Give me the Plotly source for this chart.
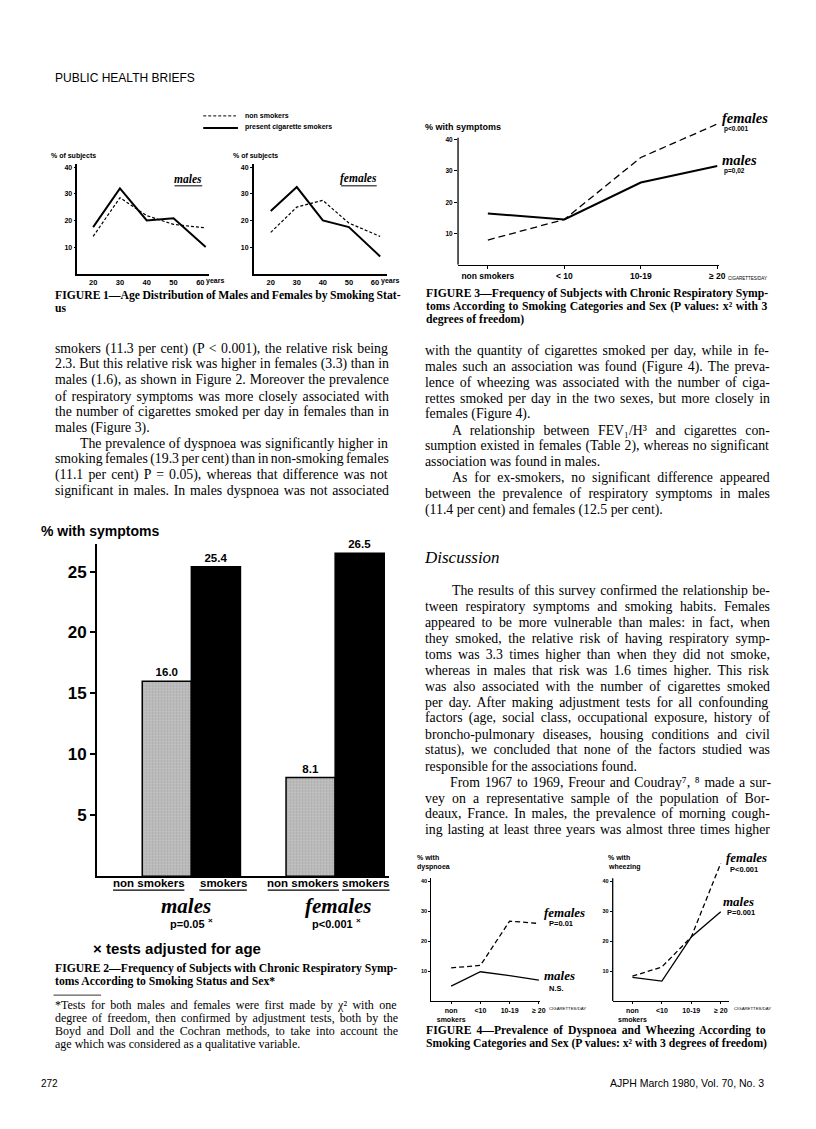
import re
import html
import plotly.graph_objects as go

W, H = 816, 1129
SANS = "Liberation Sans, Arial, sans-serif"
SERIF = "Liberation Serif, Times New Roman, serif"

# ---------------- data ----------------
# Figure 1 - age distribution (% of subjects)
age_groups = [20, 30, 40, 50, 62]
age_tickvals = [20, 30, 40, 50, 60]
f1_males_nonsmokers = [14.0, 28.5, 21.8, 18.5, 17.2]
f1_males_smokers = [17.5, 32.0, 20.0, 20.8, 10.0]
f1_females_nonsmokers = [15.5, 25.0, 27.5, 19.0, 14.0]
f1_females_smokers = [23.5, 32.5, 20.0, 17.5, 6.5]

# Figure 2 - % with symptoms by smoking status and sex
f2_sexes = ["males", "females"]
f2_nonsmokers = [16.0, 8.1]
f2_smokers = [25.4, 26.5]

# Figure 3 - % with symptoms by smoking category
f3_categories = ["non smokers", "< 10", "10-19", "≥ 20"]
f3_males = [16.4, 14.5, 26.3, 31.6]
f3_females = [7.9, 14.5, 34.3, 45.0]

# Figure 4 - dyspnoea and wheezing
f4_categories = ["non<br>smokers", "<10", "10-19", "≥ 20"]
f4_dyspnoea_males = [5.0, 9.8, 8.5, 7.0]
f4_dyspnoea_females = [11.1, 11.9, 26.7, 25.9]
f4_wheezing_males = [7.9, 6.7, 21.4, 29.8]
f4_wheezing_females = [8.3, 11.4, 21.4, 46.0]

y_ticks_40 = [10, 20, 30, 40]
y_ticks_25 = [5, 10, 15, 20, 25]

# ---------------- helpers ----------------
def X(px):
    return px / W

def Y(py):
    return 1 - py / H

def xdom(a, b):
    return [a / W, b / W]

def ydom(top, bottom):
    return [1 - bottom / H, 1 - top / H]

TIMES = {" ": 250, "!": 333, "%": 833, "(": 333, ")": 333, "*": 500, "+": 564, ",": 250,
         "-": 333, ".": 250, "/": 278, ":": 278, ";": 278, "<": 564, "=": 564, ">": 564,
         "—": 1000, "²": 300, "³": 300, "₁": 300, "⁷": 300, "⁸": 300, "χ": 500, "'": 333,
         "A": 722, "B": 667, "C": 667, "D": 722, "E": 611, "F": 556, "G": 722, "H": 722,
         "I": 333, "J": 389, "K": 722, "L": 611, "M": 889, "N": 722, "O": 722, "P": 556,
         "Q": 722, "R": 667, "S": 556, "T": 611, "U": 722, "V": 722, "W": 944, "X": 722,
         "Y": 722, "Z": 611,
         "a": 444, "b": 500, "c": 444, "d": 500, "e": 444, "f": 333, "g": 500, "h": 500,
         "i": 278, "j": 278, "k": 500, "l": 278, "m": 778, "n": 500, "o": 500, "p": 500,
         "q": 500, "r": 333, "s": 389, "t": 278, "u": 500, "v": 500, "w": 722, "x": 500,
         "y": 500, "z": 444}
TIMES_B = {" ": 250, "(": 333, ")": 333, "*": 500, ",": 250, "-": 333, ".": 250, ":": 333,
           "—": 1000, "²": 300,
           "A": 722, "B": 667, "C": 722, "D": 722, "E": 667, "F": 611, "G": 778, "H": 778,
           "I": 389, "J": 500, "K": 778, "L": 667, "M": 944, "N": 722, "O": 778, "P": 611,
           "Q": 778, "R": 722, "S": 556, "T": 667, "U": 722, "V": 722, "W": 1000, "X": 722,
           "Y": 722, "Z": 667,
           "a": 500, "b": 556, "c": 444, "d": 556, "e": 444, "f": 333, "g": 500, "h": 556,
           "i": 278, "j": 333, "k": 556, "l": 278, "m": 833, "n": 556, "o": 500, "p": 556,
           "q": 556, "r": 444, "s": 389, "t": 333, "u": 556, "v": 500, "w": 722, "x": 500,
           "y": 500, "z": 444}

annotations = []
shapes = []


def ann(text, x, y, size, family=SANS, weight="normal", style="normal",
        xanchor="left", yanchor="middle", align="left"):
    annotations.append(dict(
        text=text, x=X(x), y=Y(y), xref="paper", yref="paper",
        xanchor=xanchor, yanchor=yanchor, align=align, showarrow=False,
        borderpad=0,
        font=dict(size=size, family=family, color="black", weight=weight, style=style)))


def tline(text, x0, y, size, x1=None, bold=False, italic=False):
    """A line of serif text; if x1 is given the line is justified to end at x1."""
    t = text
    if x1 is not None:
        plain = html.unescape(re.sub(r"<[^>]+>", "", text))
        table = TIMES_B if bold else TIMES
        nat = sum(table.get(c, 500) for c in plain) * size / 1000.0
        n = plain.count(" ")
        if n:
            ws = (x1 - x0 - nat) / n
            t = '<span style="word-spacing:%.2fpx">%s</span>' % (ws, text)
    ann(t, x0, y, size, family=SERIF, weight="bold" if bold else "normal",
        style="italic" if italic else "normal")


def hline(x0, y0, x1, y1, width=1, dash="solid"):
    shapes.append(dict(type="line", xref="paper", yref="paper",
                       x0=X(x0), y0=Y(y0), x1=X(x1), y1=Y(y1),
                       line=dict(color="black", width=width, dash=dash)))


fig = go.Figure()

# ---------------- Figure 1 ----------------
DOT = "3px,2px"
for xa, ya, ns, sm in [("x", "y", f1_males_nonsmokers, f1_males_smokers),
                       ("x2", "y2", f1_females_nonsmokers, f1_females_smokers)]:
    fig.add_trace(go.Scatter(x=age_groups, y=ns, mode="lines", xaxis=xa, yaxis=ya,
                             line=dict(color="black", width=1.2, dash=DOT),
                             name="non smokers", showlegend=False))
    fig.add_trace(go.Scatter(x=age_groups, y=sm, mode="lines", xaxis=xa, yaxis=ya,
                             line=dict(color="black", width=2.0),
                             name="present cigarette smokers", showlegend=False))

# ---------------- Figure 3 ----------------
fig.add_trace(go.Scatter(x=f3_categories, y=f3_males, mode="lines", xaxis="x3", yaxis="y3",
                         line=dict(color="black", width=2), showlegend=False))
fig.add_trace(go.Scatter(x=f3_categories, y=f3_females, mode="lines", xaxis="x3", yaxis="y3",
                         line=dict(color="black", width=1.3, dash="7px,4px"), showlegend=False))

# ---------------- Figure 2 ----------------
fig.add_trace(go.Bar(
    x=f2_sexes, y=f2_nonsmokers, xaxis="x4", yaxis="y4",
    marker=dict(color="#b8b8b8", line=dict(color="black", width=1.5),
                pattern=dict(shape=".", fgcolor="#8c8c8c", bgcolor="#c2c2c2", size=3, solidity=0.35)),
    text=["%.1f" % v for v in f2_nonsmokers], textposition="outside", cliponaxis=False,
    textfont=dict(size=11.5, family=SANS, weight="bold", color="black"), showlegend=False))
fig.add_trace(go.Bar(
    x=f2_sexes, y=f2_smokers, xaxis="x4", yaxis="y4",
    marker=dict(color="black", line=dict(color="black", width=1.5)),
    text=["%.1f" % v for v in f2_smokers], textposition="outside", cliponaxis=False,
    textfont=dict(size=11.5, family=SANS, weight="bold", color="black"), showlegend=False))

# ---------------- Figure 4 ----------------
fig.add_trace(go.Scatter(x=f4_categories, y=f4_dyspnoea_males, mode="lines", xaxis="x5", yaxis="y5",
                         line=dict(color="black", width=1.3), showlegend=False))
fig.add_trace(go.Scatter(x=f4_categories, y=f4_dyspnoea_females, mode="lines", xaxis="x5", yaxis="y5",
                         line=dict(color="black", width=1.3, dash="5px,3px"), showlegend=False))
fig.add_trace(go.Scatter(x=f4_categories, y=f4_wheezing_males, mode="lines", xaxis="x6", yaxis="y6",
                         line=dict(color="black", width=1.3), showlegend=False))
fig.add_trace(go.Scatter(x=f4_categories, y=f4_wheezing_females, mode="lines", xaxis="x6", yaxis="y6",
                         line=dict(color="black", width=1.3, dash="5px,3px"), showlegend=False))

# ---------------- axes ----------------
def ax(**kw):
    base = dict(showgrid=False, zeroline=False, showline=True, linecolor="black",
                tickcolor="black", fixedrange=True)
    base.update(kw)
    return base

bold = lambda s: dict(size=s, family=SANS, weight="bold", color="black")

layout_axes = dict(
    # fig 1 males
    xaxis=ax(domain=xdom(78, 211), range=[14.1, 63.3], anchor="y", tickvals=age_tickvals,
             ticks="", linewidth=1.5, tickfont=bold(7.5)),
    yaxis=ax(domain=ydom(273 - 41 * 2.67, 273), range=[0, 41], anchor="x", tickvals=y_ticks_40,
             ticks="outside", ticklen=2, linewidth=1.5, tickfont=bold(7)),
    # fig 1 females
    xaxis2=ax(domain=xdom(256, 390), range=[13.5, 64.5], anchor="y2", tickvals=age_tickvals,
              ticks="", linewidth=1.5, tickfont=bold(7.5)),
    yaxis2=ax(domain=ydom(273 - 41 * 2.67, 273), range=[0, 41], anchor="x2", tickvals=y_ticks_40,
              ticks="outside", ticklen=2, linewidth=1.5, tickfont=bold(7)),
    # fig 3
    xaxis3=ax(domain=xdom(462, 725), range=[-0.39, 3.02], anchor="y3", type="category",
              ticks="outside", ticklen=3, linewidth=1.3, tickfont=bold(8.5)),
    yaxis3=ax(domain=ydom(264 - 46 * 3.13, 264), range=[0, 46], anchor="x3", tickvals=y_ticks_40,
              showline=False, ticks="outside", ticklen=3, tickfont=bold(6.5)),
    # fig 2
    xaxis4=ax(domain=xdom(98, 392), range=[-0.655, 1.372], anchor="y4", type="category",
              showticklabels=False, ticks="", linewidth=2),
    yaxis4=ax(domain=ydom(543, 876), range=[0, 27.3], anchor="x4", tickvals=y_ticks_25,
              ticks="outside", ticklen=5, tickwidth=2, linewidth=2, tickfont=bold(17)),
    # fig 4 dyspnoea
    xaxis5=ax(domain=xdom(435, 545), range=[-0.68, 3.05], anchor="y5", type="category",
              ticks="outside", ticklen=2, linewidth=1.3, tickfont=bold(7)),
    yaxis5=ax(domain=ydom(1001 - 41 * 3, 1001), range=[0, 41], anchor="x5", tickvals=y_ticks_40,
              ticks="outside", ticklen=2, linewidth=1.3, tickfont=bold(5.5)),
    # fig 4 wheezing
    xaxis6=ax(domain=xdom(618, 735), range=[-0.67, 3.27], anchor="y6", type="category",
              ticks="outside", ticklen=2, linewidth=1.3, tickfont=bold(7)),
    yaxis6=ax(domain=ydom(1001 - 47 * 3, 1001), range=[0, 47], anchor="x6", tickvals=y_ticks_40,
              showline=False, ticks="outside", ticklen=2, tickfont=bold(5.5)),
)

# y axis lines that stop at the top tick while data run above them
shapes.append(dict(type="line", xref="x3 domain", yref="y3", x0=0, x1=0, y0=0, y1=40.6,
                   line=dict(color="black", width=1.3)))
shapes.append(dict(type="line", xref="x6 domain", yref="y6", x0=0, x1=0, y0=0, y1=41,
                   line=dict(color="black", width=1.3)))

# ---------------- page text ----------------
ann("PUBLIC HEALTH BRIEFS", 54, 77, 12, family=SANS)

# Figure 1 texts
hline(205, 115, 238, 115, width=1, dash=DOT)
hline(205, 127, 240, 127, width=2)
ann("non smokers", 246, 115, 7, weight="bold")
ann("present cigarette smokers", 246, 126, 7, weight="bold")
ann("% of subjects", 50, 155, 7, weight="bold")
ann("% of subjects", 234, 155, 7, weight="bold")
ann("males", 190, 178, 11.5, family=SERIF, weight="bold", style="italic", xanchor="center")
ann("females", 362, 178, 11.5, family=SERIF, weight="bold", style="italic", xanchor="center")
hline(176, 185, 204, 185, width=1)
hline(344, 185, 380, 185, width=1)
ann("years", 207, 280, 7, weight="bold")
ann("years", 383, 280, 7, weight="bold")
tline("FIGURE 1—Age Distribution of Males and Females by Smoking Stat-", 54, 295, 11.7, x1=400, bold=True)
tline("us", 54, 308, 11.7, bold=True)

# Figure 3 texts
ann("% with symptoms", 428, 126, 9, weight="bold")
ann("females", 727, 117, 14.5, family=SERIF, weight="bold", style="italic")
ann("p&lt;0.001", 729, 128, 6.5, weight="bold")
ann("males", 727, 159, 14.5, family=SERIF, weight="bold", style="italic")
ann("p=0,02", 729, 170, 6.5, weight="bold")
ann("CIGARETTES/DAY", 733, 278, 4.5)
tline("FIGURE 3—Frequency of Subjects with Chronic Respiratory Symp-", 429, 293, 11.7, x1=772, bold=True)
tline("toms According to Smoking Categories and Sex (P values: x² with 3", 429, 306, 11.7, x1=772, bold=True)
tline("degrees of freedom)", 429, 319, 11.7, bold=True)

# Figure 2 texts
ann("% with symptoms", 40, 530, 14, weight="bold")
ann("non smokers", 150, 883, 11.5, weight="bold", xanchor="center")
ann("smokers", 225, 883, 11.5, weight="bold", xanchor="center")
ann("non smokers", 306, 883, 11.5, weight="bold", xanchor="center")
ann("smokers", 369, 883, 11.5, weight="bold", xanchor="center")
hline(114, 890, 186, 890, width=1.3)
hline(201, 890, 249, 890, width=1.3)
hline(270, 890, 342, 890, width=1.3)
hline(345, 890, 393, 890, width=1.3)
ann("males", 188, 906, 21, family=SERIF, weight="bold", style="italic", xanchor="center")
ann("females", 341, 906, 21, family=SERIF, weight="bold", style="italic", xanchor="center")
ann("p=0.05", 208, 924, 11, weight="bold", xanchor="right")
ann("×", 209, 920, 8, weight="bold")
ann("p&lt;0.001", 357, 924, 11, weight="bold", xanchor="right")
ann("×", 358, 920, 8, weight="bold")
ann("× tests adjusted for age", 93, 948, 15, weight="bold")
tline("FIGURE 2—Frequency of Subjects with Chronic Respiratory Symp-", 54, 968, 11.7, x1=397, bold=True)
tline("toms According to Smoking Status and Sex*", 54, 981, 11.7, bold=True)
hline(54, 995, 102, 995, width=0.8)
tline("*Tests for both males and females were first made by χ² with one", 54, 1005, 12, x1=397)
tline("degree of freedom, then confirmed by adjustment tests, both by the", 54, 1018, 12, x1=397)
tline("Boyd and Doll and the Cochran methods, to take into account the", 54, 1031, 12, x1=397)
tline("age which was considered as a qualitative variable.", 54, 1044, 12)

# Figure 4 texts
ann("% with", 420, 857, 7, weight="bold")
ann("dyspnoea", 420, 867, 7, weight="bold")
ann("% with", 612, 857, 7, weight="bold")
ann("wheezing", 612, 867, 7, weight="bold")
ann("females", 548, 912, 13, family=SERIF, weight="bold", style="italic")
ann("P=0.01", 553, 923, 7.5, weight="bold")
ann("males", 548, 975, 13, family=SERIF, weight="bold", style="italic")
ann("N.S.", 553, 988, 7.5, weight="bold")
ann("females", 731, 857, 13, family=SERIF, weight="bold", style="italic")
ann("P&lt;0.001", 735, 869, 7.5, weight="bold")
ann("males", 728, 901, 13, family=SERIF, weight="bold", style="italic")
ann("P=0.001", 732, 912, 7.5, weight="bold")
ann("CIGARETTES/DAY", 553, 1008, 4.3)
ann("CIGARETTES/DAY", 739, 1008, 4.3)
tline("FIGURE 4—Prevalence of Dyspnoea and Wheezing According to", 429, 1030, 11.7, x1=770, bold=True)
tline("Smoking Categories and Sex (P values: x² with 3 degrees of freedom)", 429, 1043, 11.7, bold=True)

# Body text - left column
BODY = 13.8
LX0, LX1 = 54, 388
left_lines = [
    ("smokers (11.3 per cent) (P &lt; 0.001), the relative risk being", LX0, True),
    ("2.3. But this relative risk was higher in females (3.3) than in", LX0, True),
    ("males (1.6), as shown in Figure 2. Moreover the prevalence", LX0, True),
    ("of respiratory symptoms was more closely associated with", LX0, True),
    ("the number of cigarettes smoked per day in females than in", LX0, True),
    ("males (Figure 3).", LX0, False),
    ("The prevalence of dyspnoea was significantly higher in", 80, True),
    ("smoking females (19.3 per cent) than in non-smoking females", LX0, True),
    ("(11.1 per cent) P = 0.05), whereas that difference was not", LX0, True),
    ("significant in males. In males dyspnoea was not associated", LX0, True),
]
for i, (txt, x0, just) in enumerate(left_lines):
    tline(txt, x0, 348 + 15.8 * i, BODY, x1=LX1 if just else None)

# Body text - right column
RX0, RX1 = 428, 773
right_top = [
    ("with the quantity of cigarettes smoked per day, while in fe-", RX0, True),
    ("males such an association was found (Figure 4). The preva-", RX0, True),
    ("lence of wheezing was associated with the number of ciga-", RX0, True),
    ("rettes smoked per day in the two sexes, but more closely in", RX0, True),
    ("females (Figure 4).", RX0, False),
    ("A relationship between FEV₁/H³ and cigarettes con-", 455, True),
    ("sumption existed in females (Table 2), whereas no significant", RX0, True),
    ("association was found in males.", RX0, False),
    ("As for ex-smokers, no significant difference appeared", 455, True),
    ("between the prevalence of respiratory symptoms in males", RX0, True),
    ("(11.4 per cent) and females (12.5 per cent).", RX0, False),
]
for i, (txt, x0, just) in enumerate(right_top):
    tline(txt, x0, 350 + 15.9 * i, BODY, x1=RX1 if just else None)

tline("Discussion", 427, 557, 17, italic=True)

right_disc = [
    ("The results of this survey confirmed the relationship be-", 455, True),
    ("tween respiratory symptoms and smoking habits. Females", RX0, True),
    ("appeared to be more vulnerable than males: in fact, when", RX0, True),
    ("they smoked, the relative risk of having respiratory symp-", RX0, True),
    ("toms was 3.3 times higher than when they did not smoke,", RX0, True),
    ("whereas in males that risk was 1.6 times higher. This risk", RX0, True),
    ("was also associated with the number of cigarettes smoked", RX0, True),
    ("per day. After making adjustment tests for all confounding", RX0, True),
    ("factors (age, social class, occupational exposure, history of", RX0, True),
    ("broncho-pulmonary diseases, housing conditions and civil", RX0, True),
    ("status), we concluded that none of the factors studied was", RX0, True),
    ("responsible for the associations found.", RX0, False),
    ("From 1967 to 1969, Freour and Coudray⁷, ⁸ made a sur-", 453, True),
    ("vey on a representative sample of the population of Bor-", RX0, True),
    ("deaux, France. In males, the prevalence of morning cough-", RX0, True),
    ("ing lasting at least three years was almost three times higher", RX0, True),
]
for i, (txt, x0, just) in enumerate(right_disc):
    tline(txt, x0, 590 + 15.98 * i, BODY, x1=RX1 if just else None)

# Footer
ann("272", 40, 1083, 10, family=SANS)
ann("AJPH March 1980, Vol. 70, No. 3", 772, 1083, 10.5, family=SANS, xanchor="right")

fig.update_layout(
    width=W, height=H, margin=dict(l=0, r=0, t=0, b=0),
    paper_bgcolor="white", plot_bgcolor="rgba(0,0,0,0)",
    showlegend=False, barmode="group", bargap=0.317, bargroupgap=0,
    font=dict(family=SERIF, color="black"),
    annotations=annotations, shapes=shapes,
    **layout_axes,
)

fig.write_html("out.html", config={"displayModeBar": False},
               post_script="document.body.style.margin='0px';")
